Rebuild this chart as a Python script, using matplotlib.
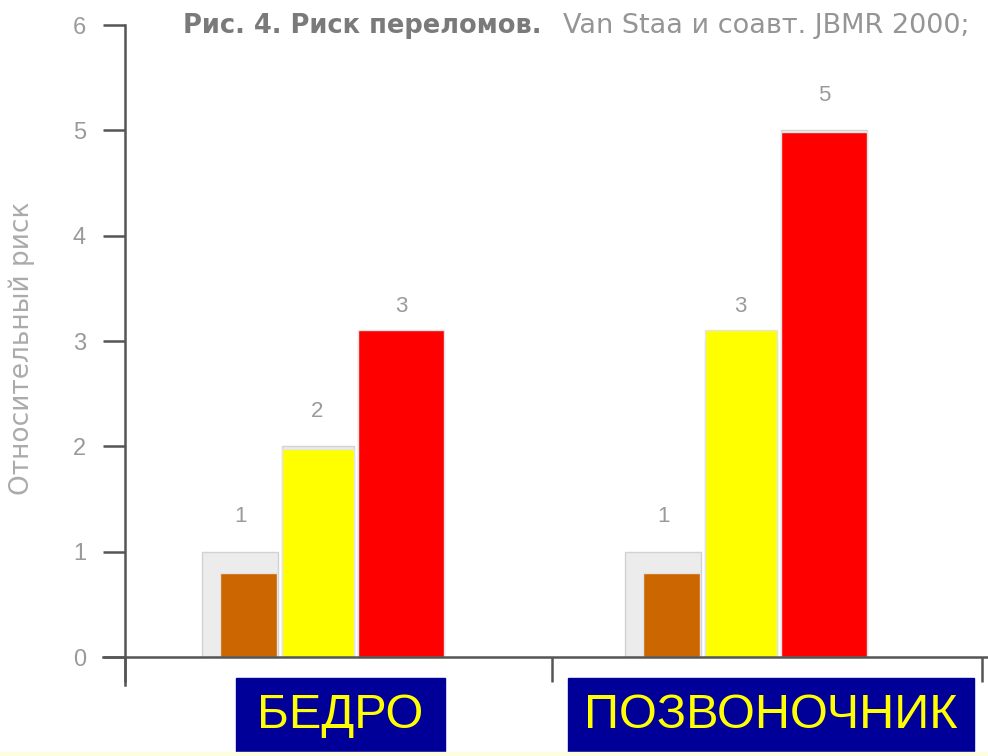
import matplotlib
matplotlib.use("Agg")
import matplotlib.pyplot as plt
from matplotlib.patches import Rectangle

plt.rcParams["font.family"] = ["Liberation Sans", "DejaVu Sans"]

# ── Данные ────────────────────────────────────────────────────────
categories   = ["БЕДРО", "ПОЗВОНОЧНИК"]
risk_hip     = [0.80, 1.97, 3.10]    # цветные столбцы
risk_spine   = [0.80, 3.10, 4.98]
orig_hip     = [1, 2, 3]             # исходные серые столбцы с подписями
orig_spine   = [1, 3, 5]
bar_colors   = ["#CC6600", "#FFFF00", "#FF0000"]
yticks       = [0, 1, 2, 3, 4, 5, 6]
title_bold   = "Рис. 4. Риск переломов."
title_rest   = "Van Staa и соавт. JBMR 2000;"
ylabel       = "Относительный риск"

# ── Раскладка ─────────────────────────────────────────────────────
W, H = 988, 756
centers      = [2.07, 6.30]
offs         = [-0.835, -0.145, 0.69]
widths       = [0.57, 0.72, 0.86]
orig_offs    = [-0.92, -0.145, 0.69]
orig_widths  = [0.76, 0.72, 0.86]
GRAY_TXT = "#9a9a9a"
AX_COL   = "#555555"

fig = plt.figure(figsize=(W / 100, H / 100), dpi=100)
fig.patch.set_facecolor("white")
ax = fig.add_axes([125 / W, (H - 657) / H, (982 - 125) / W, (657 - 25) / H])
ax.set_xlim(0, 8.57)
ax.set_ylim(0, 6)
for s in ax.spines.values():
    s.set_visible(False)

# исходные (серые) столбцы
for c, vals in zip(centers, [orig_hip, orig_spine]):
    for i, v in enumerate(vals):
        x = c + orig_offs[i]
        ax.bar(x, v, width=orig_widths[i], color="#ececec",
               edgecolor="#d2d2d2", lw=1, zorder=1)
        ax.annotate(f"{v}", (x, v), xytext=(0, 25), textcoords="offset points",
                    ha="center", va="center", fontsize=16, color=GRAY_TXT)

# цветные столбцы поверх
for c, vals in zip(centers, [risk_hip, risk_spine]):
    for i, v in enumerate(vals):
        ax.bar(c + offs[i], v, width=widths[i], color=bar_colors[i],
               edgecolor="#e4e4e4", lw=1, zorder=2)

# оси
ax.plot([0, 0], [-0.27, 6], color=AX_COL, lw=1.8, clip_on=False, zorder=3)
ax.plot([-0.22, 8.63], [0, 0], color=AX_COL, lw=1.8, clip_on=False, zorder=3)
ax.set_yticks(yticks)
ax.set_yticklabels([str(t) for t in yticks])
ax.set_xticks([0, 4.27, 8.57])
ax.set_xticklabels([])
ax.tick_params(axis="y", direction="out", length=16, width=1.8, color=AX_COL,
               pad=12, labelsize=17, labelcolor=GRAY_TXT)
ax.tick_params(axis="x", direction="out", length=18, width=1.8, color=AX_COL)

# подпись оси Y и заголовок
fig.text(22 / W, 1 - 348 / H, ylabel, rotation=90, ha="center", va="center",
         fontsize=19, color="#ababab", family="DejaVu Sans")
fig.text(183 / W, 1 - 26 / H, title_bold, ha="left", va="center",
         fontsize=18.5, fontweight="bold", color="#7a7a7a", family="DejaVu Sans")
fig.text(563 / W, 1 - 26 / H, title_rest, ha="left", va="center",
         fontsize=19.5, color="#959595", family="DejaVu Sans")

# синие плашки с названиями
boxes = [(236, 445), (568, 974)]
for (x0, x1), name in zip(boxes, categories):
    fig.patches.append(Rectangle((x0 / W, (H - 752) / H), (x1 - x0) / W, 74 / H,
                                 transform=fig.transFigure, color="#000099", zorder=5))
    fig.text((x0 + x1) / 2 / W, 1 - 716 / H, name, ha="center", va="center",
             fontsize=35, color="#FFFF00", zorder=6)

# светлая полоска внизу
fig.patches.append(Rectangle((0, 0), 1, 4 / H, transform=fig.transFigure,
                             color="#fdfde0", zorder=5))

plt.savefig("out.png", dpi=100)
plt.close()
